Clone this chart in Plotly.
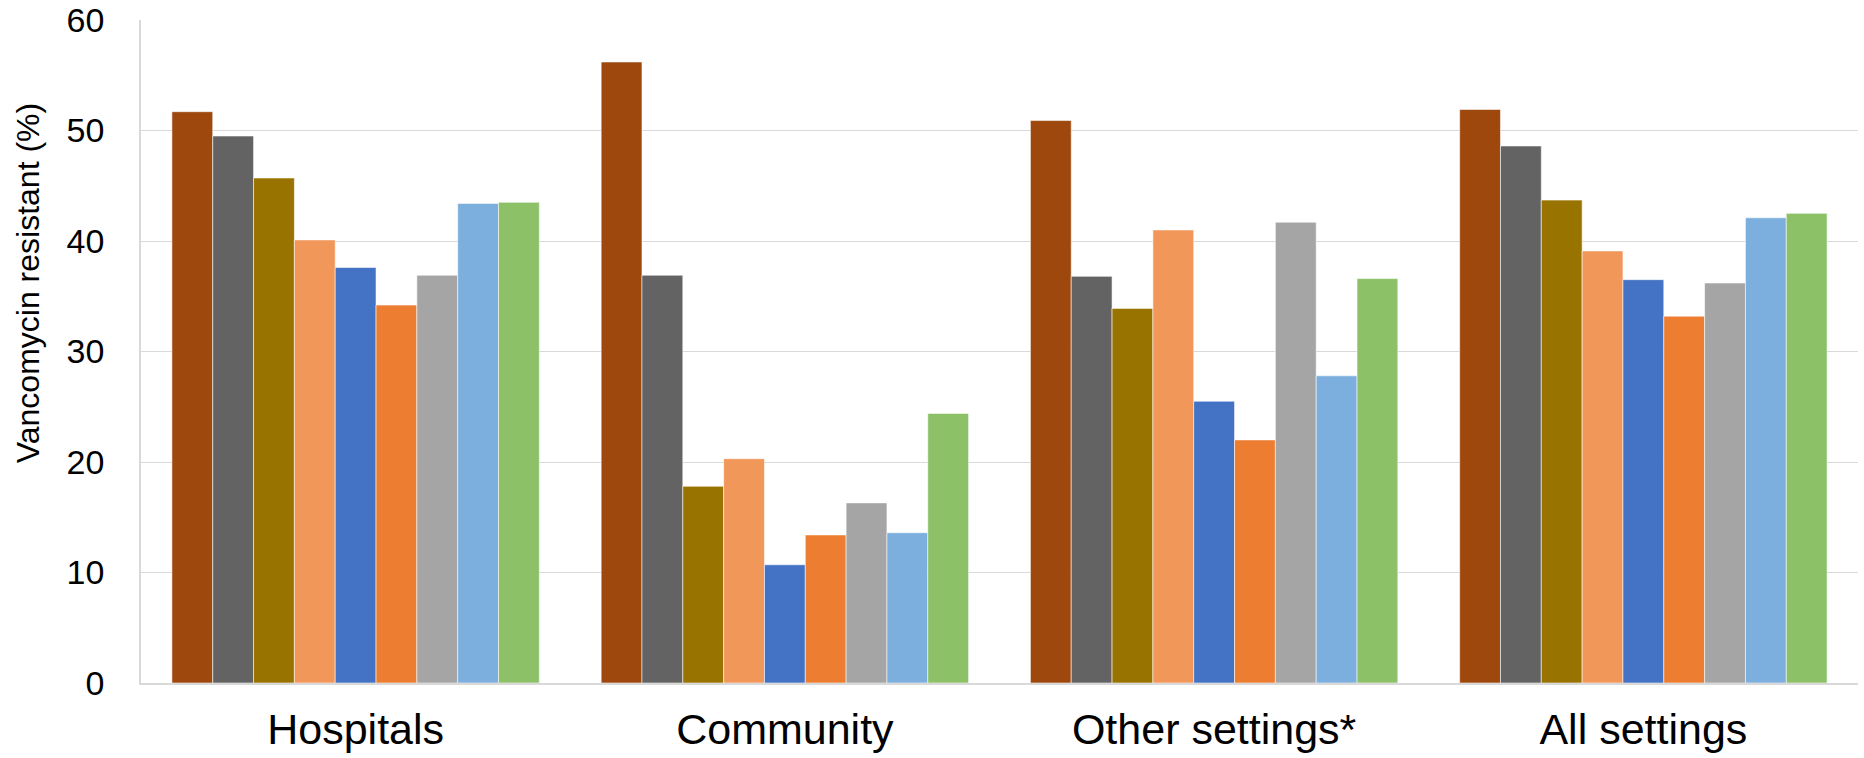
import plotly.graph_objects as go

# Settings along the x axis
categories = ["Hospitals", "Community", "Other settings*", "All settings"]

# Percentage resistant for each of the nine series, one value per setting
series_values = [
    [51.7, 56.2, 50.9, 51.9],
    [49.5, 36.9, 36.8, 48.6],
    [45.7, 17.8, 33.9, 43.7],
    [40.1, 20.3, 41.0, 39.1],
    [37.6, 10.7, 25.5, 36.5],
    [34.2, 13.4, 22.0, 33.2],
    [36.9, 16.3, 41.7, 36.2],
    [43.4, 13.6, 27.8, 42.1],
    [43.5, 24.4, 36.6, 42.5],
]
series_names = ["Series %d" % (i + 1) for i in range(len(series_values))]
series_colors = ["#9E480E", "#636363", "#997300", "#F1975A", "#4472C4",
                 "#ED7D31", "#A5A5A5", "#7CAFDD", "#8CC168"]

y_ticks = [0, 10, 20, 30, 40, 50, 60]

fig = go.Figure()
for name, vals, col in zip(series_names, series_values, series_colors):
    fig.add_trace(go.Bar(
        x=categories, y=vals, name=name,
        marker=dict(color=col, line=dict(color="rgba(255,255,255,0.55)", width=1)),
        showlegend=False,
    ))

font_family = "Liberation Sans, Arial, sans-serif"

fig.update_layout(
    width=1864, height=758,
    margin=dict(l=141, r=6, t=20, b=75),
    paper_bgcolor="white", plot_bgcolor="white",
    barmode="group", bargap=0.144, bargroupgap=0,
    font=dict(family=font_family, color="#000000"),
    xaxis=dict(
        range=[-0.5, 3.5], showgrid=False, automargin=False,
        showline=True, linecolor="#D9D9D9", linewidth=1.5,
        ticks="", tickfont=dict(size=43, family=font_family),
        ticklabelstandoff=8,
    ),
    yaxis=dict(
        range=[0, 60], tickvals=y_ticks, ticktext=[str(v) for v in y_ticks],
        automargin=False,
        showgrid=True, gridcolor="#D9D9D9", gridwidth=1,
        showline=True, linecolor="#D9D9D9", linewidth=1.5,
        zeroline=False, ticks="", tickfont=dict(size=34, family=font_family),
        ticklabelstandoff=28,
    ),
    annotations=[dict(
        text="Vancomycin resistant (%)", textangle=-90,
        xref="paper", yref="paper", x=0, y=0.603,
        xanchor="center", yanchor="middle", xshift=-113,
        showarrow=False, font=dict(size=32, family=font_family, color="#000000"),
    )],
)

fig.write_html("out.html")
